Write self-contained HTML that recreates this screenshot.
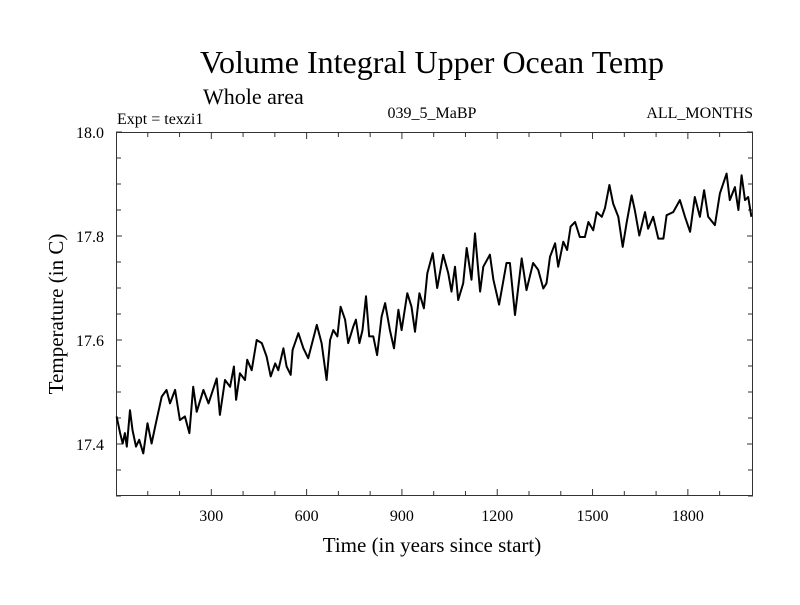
<!DOCTYPE html>
<html><head><meta charset="utf-8"><style>
body{margin:0;background:#fff}
svg text{font-family:"Liberation Serif",serif;fill:#000}
</style></head><body>
<svg id="chart" width="800" height="600">
<text x="432" y="73" font-size="32" text-anchor="middle">Volume Integral Upper Ocean Temp</text>
<text x="203" y="104" font-size="22">Whole area</text>
<text x="117" y="124" font-size="16">Expt = texzi1</text>
<text x="432" y="118" font-size="16" text-anchor="middle">039_5_MaBP</text>
<text x="753" y="118" font-size="16" text-anchor="end">ALL_MONTHS</text>
<text x="432" y="552" font-size="21" text-anchor="middle">Time (in years since start)</text>
<text transform="translate(63,314) rotate(-90)" font-size="21" text-anchor="middle">Temperature (in C)</text>
<g id="axes"></g>
<rect x="116.5" y="132.5" width="636" height="363" fill="none" stroke="#333" stroke-width="1"/>
</svg>
<script>
const years=[2,13,21,28,34,44,52,63,73,86,99,112,123,144,159,170,186,201,217,231,243,254,275,291,317,327,343,359,371,378,390,406,413,427,443,459,474,487,501,511,527,537,550,556,574,590,605,632,647,663,674,
684,697,707,721,731,747,755,766,776,787,797,810,822,836,847,862,875,889,899,917,930,941,955,969,980,997,1011,1030,1046,1056,1067,1077,1093,1104,1119,1130,1146,1156,1177,1188,1206,1229,1240,1256,1277,1292,1313,1329,
1345,1355,1366,1382,1392,1408,1420,1431,1445,1460,1476,1487,1502,1513,1529,1539,1553,1565,1581,1595,1607,1623,1633,1647,1665,1675,1691,1707,1723,1733,1754,1775,1791,1807,1822,1838,1851,1864,1885,1901,1922,1932,1948,1959,1969,1980,1990,2000];
const temps=[17.453,17.421,17.401,17.421,17.395,17.465,17.427,17.395,17.408,17.382,17.440,17.401,17.433,17.491,17.504,17.478,17.504,17.446,17.453,17.421,17.510,17.462,17.504,17.478,17.526,17.456,17.523,17.510,17.549,17.485,17.536,17.523,17.562,17.542,17.600,17.594,17.568,17.530,17.555,17.542,17.584,17.549,17.533,17.581,17.613,17.584,17.565,17.629,17.594,17.523,17.600,
17.619,17.607,17.664,17.639,17.594,17.626,17.639,17.594,17.619,17.684,17.607,17.607,17.571,17.645,17.671,17.619,17.584,17.658,17.619,17.690,17.664,17.616,17.690,17.661,17.728,17.767,17.700,17.764,17.728,17.693,17.741,17.677,17.709,17.777,17.716,17.805,17.693,17.741,17.764,17.716,17.668,17.748,17.748,17.648,17.757,17.696,17.748,17.735,
17.699,17.709,17.760,17.786,17.741,17.789,17.773,17.818,17.827,17.798,17.798,17.827,17.811,17.846,17.837,17.853,17.898,17.862,17.837,17.779,17.824,17.878,17.850,17.801,17.846,17.814,17.837,17.795,17.795,17.840,17.846,17.869,17.837,17.808,17.875,17.837,17.888,17.837,17.821,17.882,17.920,17.869,17.894,17.850,17.917,17.869,17.875,17.837];
const xTicks=[300,600,900,1200,1500,1800];
const yTicks=[17.4,17.6,17.8,18.0];
const X=v=>116+(v)*0.3177;
const Y=v=>132+(18.0-v)*520;
const ns="http://www.w3.org/2000/svg";
const svg=document.getElementById('chart');
const g=document.getElementById('axes');
function line(x1,y1,x2,y2){const l=document.createElementNS(ns,'line');l.setAttribute('x1',x1);l.setAttribute('y1',y1);l.setAttribute('x2',x2);l.setAttribute('y2',y2);l.setAttribute('stroke','#333');l.setAttribute('stroke-width','1');


g.appendChild(l);}
for(let v=17.3;v<=18.001;v+=0.05){const y=Y(v);const major=Math.abs(Math.round(v*10)/10-v)<1e-6&&Math.round(v*10)%2==0;const L=major?6:5;line(116,y,116+L,y);line(753,y,753-L,y);}
for(let t=100;t<2000;t+=100){const x=X(t);const L=(t%300==0)?7:5;line(x,496,x,496-L);line(x,132,x,132+L);}
xTicks.forEach(t=>{const e=document.createElementNS(ns,'text');e.setAttribute('x',X(t));e.setAttribute('y',521);e.setAttribute('font-size','16');e.setAttribute('text-anchor','middle');e.textContent=t;


svg.appendChild(e);});
yTicks.forEach(t=>{const e=document.createElementNS(ns,'text');e.setAttribute('x',104);e.setAttribute('y',Y(t)+6);e.setAttribute('font-size','16');e.setAttribute('text-anchor','end');e.textContent=t.toFixed(1);


svg.appendChild(e);});
const p=document.createElementNS(ns,'polyline');
p.setAttribute('points',years.map((yr,i)=>X(yr).toFixed(1)+','+Y(temps[i]).toFixed(1)).join(' '));
p.setAttribute('fill','none');p.setAttribute('stroke','#000');p.setAttribute('stroke-width','2');p.setAttribute('stroke-linejoin','round');


svg.appendChild(p);
</script>
</body></html>
